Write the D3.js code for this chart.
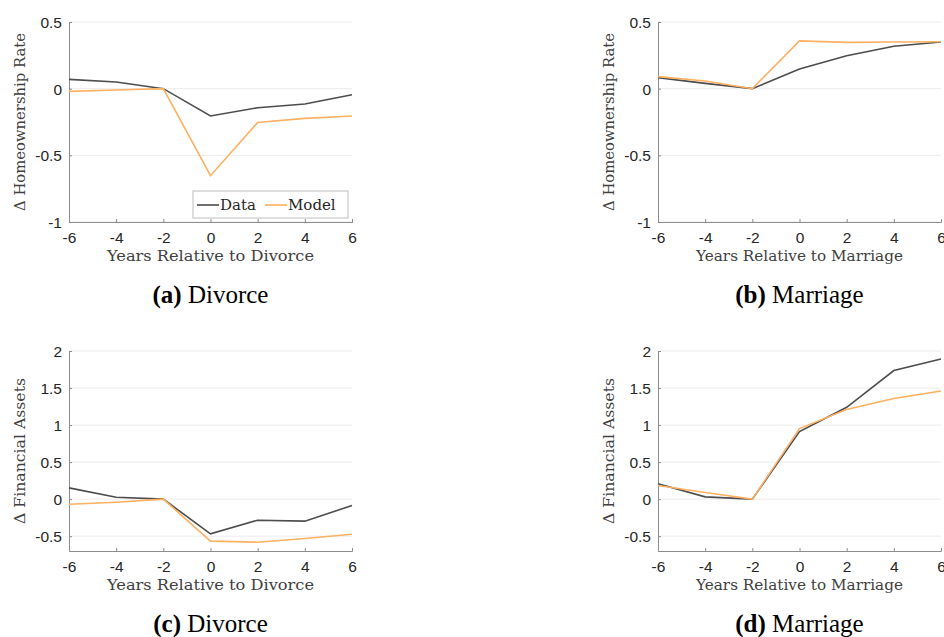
<!DOCTYPE html>
<html>
<head>
<meta charset="utf-8">
<script src="https://cdn.jsdelivr.net/npm/d3@7"></script>
<style>
  body { margin: 0; background: #fff; }
  .axis-title { font-family: "DejaVu Serif", serif; font-size: 14px; fill: #404040; }
  .caption { font-family: "Liberation Serif", "Times New Roman", serif; font-size: 25px; fill: #000; }
  .legend-text { font-family: "DejaVu Serif", serif; font-size: 15px; fill: #262626; }
</style>
</head>
<body>
<svg id="chart" width="944" height="637"></svg>
<script>
// Event time (years relative to event)
const years = [-6, -4, -2, 0, 2, 4, 6];
const xTicks = [-6, -4, -2, 0, 2, 4, 6];

// Homeownership rate
const homeDivorceData  = [0.07, 0.05, 0, -0.205, -0.143, -0.115, -0.046];
const homeDivorceModel = [-0.02, -0.01, 0, -0.653, -0.253, -0.223, -0.205];
const homeMarriageData  = [0.083, 0.04, 0, 0.148, 0.247, 0.318, 0.35];
const homeMarriageModel = [0.09, 0.058, 0, 0.358, 0.347, 0.35, 0.352];
const homeTicks = [-1, -0.5, 0, 0.5];

// Financial assets
const finDivorceData  = [0.152, 0.026, 0, -0.468, -0.284, -0.297, -0.086];
const finDivorceModel = [-0.068, -0.041, 0, -0.567, -0.581, -0.531, -0.473];
const finMarriageData  = [0.207, 0.031, 0, 0.913, 1.24, 1.736, 1.893];
const finMarriageModel = [0.184, 0.09, 0, 0.953, 1.21, 1.358, 1.461];
const finTicks = [-0.5, 0, 0.5, 1, 1.5, 2];

const dataColor = "#4d4d4d";
const modelColor = "#ffb061";

const panels = [
  { left: 69, top: 22, ylabel: "\u0394 Homeownership Rate", xlabel: "Years Relative to Divorce",
    letter: "(a)", name: " Divorce", data: homeDivorceData, model: homeDivorceModel,
    ydomain: [-1, 0.5], yticks: homeTicks, legend: true, ylen: 178 },
  { left: 658, top: 22, ylabel: "\u0394 Homeownership Rate", xlabel: "Years Relative to Marriage",
    letter: "(b)", name: " Marriage", data: homeMarriageData, model: homeMarriageModel,
    ydomain: [-1, 0.5], yticks: homeTicks, legend: false, ylen: 178 },
  { left: 69, top: 351, ylabel: "\u0394 Financial Assets", xlabel: "Years Relative to Divorce",
    letter: "(c)", name: " Divorce", data: finDivorceData, model: finDivorceModel,
    ydomain: [-0.7, 2], yticks: finTicks, legend: false, ylen: 146 },
  { left: 658, top: 351, ylabel: "\u0394 Financial Assets", xlabel: "Years Relative to Marriage",
    letter: "(d)", name: " Marriage", data: finMarriageData, model: finMarriageModel,
    ydomain: [-0.7, 2], yticks: finTicks, legend: false, ylen: 146 }
];

const W = 283, H = 200;
const svg = d3.select("#chart");

panels.forEach(p => {
  const g = svg.append("g").attr("transform", `translate(${p.left},${p.top})`);

  const x = d3.scaleLinear().domain([-6, 6]).range([0, W]);
  const y = d3.scaleLinear().domain(p.ydomain).range([H, 0]);

  // horizontal grid lines
  g.append("g").selectAll("line")
    .data(p.yticks)
    .enter().append("line")
    .attr("x1", 0).attr("x2", W)
    .attr("y1", d => y(d)).attr("y2", d => y(d))
    .attr("stroke", "#ececec").attr("stroke-width", 1);

  // axes (ticks pointing inward, like matlab)
  const xAxis = g.append("g")
    .attr("transform", `translate(0,${H})`)
    .call(d3.axisBottom(x).tickValues(xTicks).tickSize(-3).tickPadding(8).tickFormat(d => String(d)));
  const yAxis = g.append("g")
    .call(d3.axisLeft(y).tickValues(p.yticks).tickSize(-3).tickPadding(7).tickFormat(d => String(d)));
  [xAxis, yAxis].forEach(a => {
    a.attr("font-family", "'Liberation Sans', Arial, sans-serif").attr("font-size", 15.5);
    a.select(".domain").attr("stroke", "#8c8c8c");
    a.selectAll(".tick line").attr("stroke", "#8c8c8c");
    a.selectAll(".tick text").attr("fill", "#262626");
  });
  xAxis.selectAll(".tick text").attr("dy", "0.85em");
  yAxis.selectAll(".tick text").attr("dy", "0.36em");

  const line = d3.line()
    .x((d, i) => x(years[i]))
    .y(d => y(d));

  g.append("path").datum(p.data)
    .attr("d", line).attr("fill", "none")
    .attr("stroke", dataColor).attr("stroke-width", 1.6);
  g.append("path").datum(p.model)
    .attr("d", line).attr("fill", "none")
    .attr("stroke", modelColor).attr("stroke-width", 1.6);

  // axis titles
  g.append("text").attr("class", "axis-title")
    .attr("x", W / 2).attr("y", H + 39)
    .attr("text-anchor", "middle")
    .attr("textLength", 207).attr("lengthAdjust", "spacingAndGlyphs")
    .text(p.xlabel);
  g.append("text").attr("class", "axis-title")
    .attr("transform", `translate(${-44},${H / 2}) rotate(-90)`)
    .attr("text-anchor", "middle")
    .attr("textLength", p.ylen).attr("lengthAdjust", "spacingAndGlyphs")
    .text(p.ylabel);

  // caption
  const cap = g.append("text").attr("class", "caption")
    .attr("x", W / 2).attr("y", H + 81)
    .attr("text-anchor", "middle");
  cap.append("tspan").attr("font-weight", "bold").text(p.letter);
  cap.append("tspan").text(p.name);

  if (p.legend) {
    const lg = g.append("g").attr("transform", `translate(${124},${169})`);
    lg.append("rect").attr("width", 155).attr("height", 27)
      .attr("fill", "#fff").attr("stroke", "#bdbdbd").attr("stroke-width", 1);
    const items = [["Data", dataColor, 4], ["Model", modelColor, 72]];
    items.forEach(([label, color, ox]) => {
      lg.append("line").attr("x1", ox).attr("x2", ox + 22)
        .attr("y1", 14).attr("y2", 14)
        .attr("stroke", color).attr("stroke-width", 1.6);
      lg.append("text").attr("class", "legend-text")
        .attr("x", ox + 23).attr("y", 19)
        .text(label);
    });
  }
});
</script>
</body>
</html>
